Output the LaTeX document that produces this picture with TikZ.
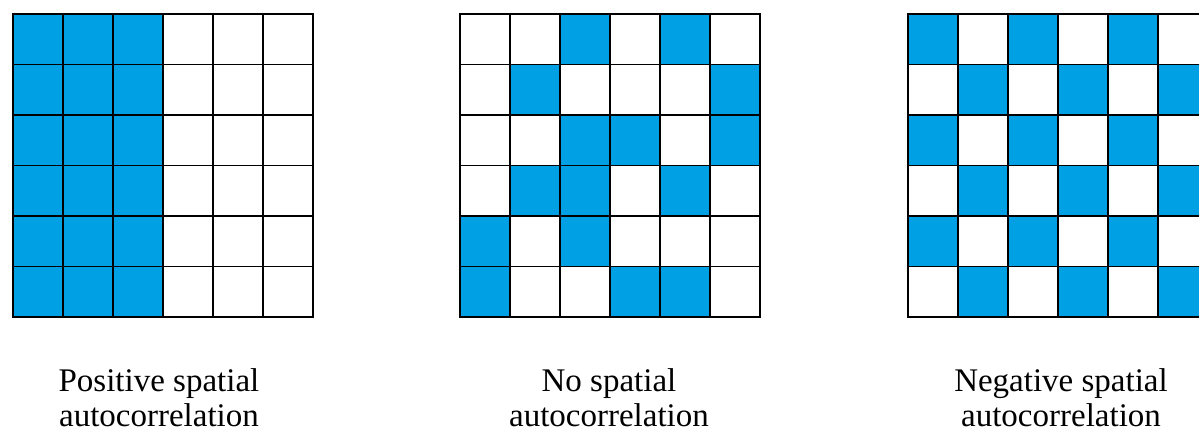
\documentclass[tikz,border=0pt]{standalone}
\usepackage{fontspec}
\setmainfont{Liberation Serif}
\definecolor{cellblue}{RGB}{0,161,228}
\begin{document}
\begin{tikzpicture}[x=1pt,y=-1pt,
  cell/.style={fill=cellblue},
  gridline/.style={line width=1.8pt,black,line cap=rect},
  caption/.style={font=\fontsize{33}{35}\selectfont,anchor=base,inner sep=0pt}]
\useasboundingbox (0,0) rectangle (1199,434);
\fill[white] (0,0) rectangle (1199,434);
\begin{scope}
\clip (0,0) rectangle (1199,434);
% grid 1: positive
\foreach \r in {0,...,5} \foreach \c in {0,1,2}
  \fill[cell] (13+50*\c,14+50.5*\r) rectangle ++(50,50.5);
% grid 2: none
\foreach \c/\r in {2/0,4/0,1/1,5/1,2/2,3/2,5/2,1/3,2/3,4/3,0/4,2/4,0/5,3/5,4/5}
  \fill[cell] (460+50*\c,14+50.5*\r) rectangle ++(50,50.5);
% grid 3: negative (checkerboard)
\foreach \r in {0,...,5} \foreach \c in {0,...,5} {
  \pgfmathtruncatemacro{\p}{mod(\r+\c,2)}
  \ifnum\p=0 \fill[cell] (908+50*\c,14+50.5*\r) rectangle ++(50,50.5);\fi
}
% grid lines
\foreach \xo in {13,460,908} {
  \foreach \i in {0,...,6} {
    \draw[gridline] (\xo+50*\i,14) -- (\xo+50*\i,317);
    \draw[gridline] (\xo,14+50.5*\i) -- (\xo+300,14+50.5*\i);
  }
}
\end{scope}
\node[caption] (pos1) at (159,391) {Positive spatial};
\node[caption] (pos2) at (159,426) {autocorrelation};
\node[caption] (no1) at (609,391) {No spatial};
\node[caption] (no2) at (609,426) {autocorrelation};
\node[caption] (neg1) at (1061,391) {Negative spatial};
\node[caption] (neg2) at (1061,426) {autocorrelation};
\end{tikzpicture}
\end{document}
